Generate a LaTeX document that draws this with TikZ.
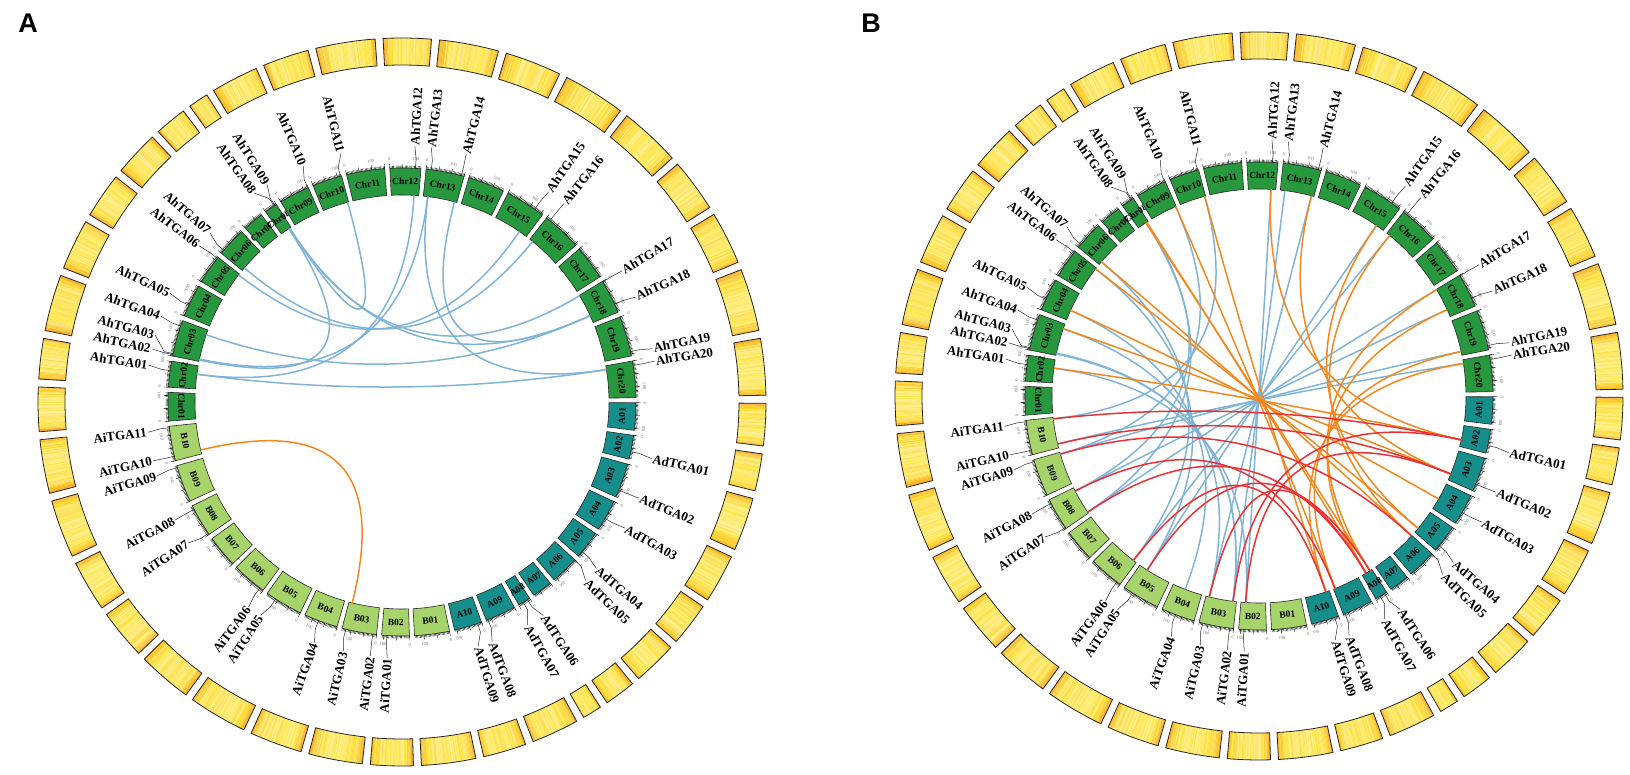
\documentclass[tikz,border=0pt]{standalone}
\usepackage{fontspec}
\setmainfont{Liberation Serif}
\setsansfont{Liberation Sans}
\usetikzlibrary{calc}

\definecolor{ahgreen}{RGB}{40,152,62}
\definecolor{adteal}{RGB}{22,142,140}
\definecolor{aigreen}{RGB}{166,211,106}
\definecolor{heatyellow}{RGB}{255,228,50}
\definecolor{heatorange}{RGB}{246,160,40}
\definecolor{linkblue}{RGB}{128,180,215}
\definecolor{linkorange}{RGB}{244,136,30}
\definecolor{linkred}{RGB}{236,48,52}

\tikzset{
  band/.style={draw=black!85, line width=0.8pt},
  chrom/.style={draw=black!85, line width=0.6pt},
  chrlabel/.style={font=\bfseries\fontsize{9.5}{10}\selectfont, inner sep=0pt},
  genelabel/.style={font=\bfseries\fontsize{13}{14}\selectfont, inner sep=0pt},
  ticklabel/.style={font=\fontsize{4.5}{5}\selectfont, text=black!55, inner sep=0pt},
  tickline/.style={line width=0.35pt, black},
  leader/.style={line width=0.5pt, black!85},
  link/.style={line width=1.5pt},
  panellabel/.style={font=\sffamily\bfseries\fontsize{27}{28}\selectfont, inner sep=0pt},
}

% chromosome name / length (Mb) / colour
\newcommand{\chromlist}{Chr01/112/ahgreen,Chr02/102/ahgreen,Chr03/143/ahgreen,Chr04/128/ahgreen,
  Chr05/115/ahgreen,Chr06/115/ahgreen,Chr07/81/ahgreen,Chr08/51/ahgreen,Chr09/120/ahgreen,
  Chr10/117/ahgreen,Chr11/150/ahgreen,Chr12/121/ahgreen,Chr13/150/ahgreen,Chr14/143/ahgreen,
  Chr15/158/ahgreen,Chr16/155/ahgreen,Chr17/135/ahgreen,Chr18/134/ahgreen,Chr19/158/ahgreen,
  Chr20/143/ahgreen,A01/107/adteal,A02/94/adteal,A03/135/adteal,A04/123/adteal,A05/110/adteal,
  A06/112/adteal,A07/79/adteal,A08/49/adteal,A09/120/adteal,A10/109/adteal,B01/137/aigreen,
  B02/108/aigreen,B03/136/aigreen,B04/133/aigreen,B05/149/aigreen,B06/137/aigreen,
  B07/126/aigreen,B08/129/aigreen,B09/147/aigreen,B10/136/aigreen}

% gene / chromosome / position (Mb) / label angle
\newcommand{\genelist}{AhTGA01/Chr02/65/171.7,AhTGA02/Chr03/6/168.0,AhTGA03/Chr03/10/164.8,
  AhTGA04/Chr03/121/160.4,AhTGA05/Chr04/45/154.9,AhTGA06/Chr05/110/142.4,AhTGA07/Chr06/15/138.6,
  AhTGA08/Chr08/40/125.3,AhTGA09/Chr08/44/121.8,AhTGA10/Chr09/118/112.7,AhTGA11/Chr10/113/103.8,
  AhTGA12/Chr12/100/87.1,AhTGA13/Chr13/20/83.4,AhTGA14/Chr13/139/75.5,AhTGA15/Chr15/121/55.1,
  AhTGA16/Chr16/16/50.8,AhTGA17/Chr18/2/30.8,AhTGA18/Chr18/101/24.2,AhTGA19/Chr19/141/12.0,
  AhTGA20/Chr20/17/9.2,
  AdTGA01/A02/64/-12.8,AdTGA02/A03/107/-22.1,AdTGA03/A04/74/-29.5,AdTGA04/A05/88/-40.6,
  AdTGA05/A06/2/-44.2,AdTGA06/A08/10/-56.5,AdTGA07/A08/30/-60.7,AdTGA08/A09/113/-69.4,
  AdTGA09/A10/16/-72.7,
  AiTGA01/B02/87/-93.3,AiTGA02/B03/15/-97.1,AiTGA03/B03/121/-103.2,AiTGA04/B04/76/-110.0,
  AiTGA05/B05/110/-123.5,AiTGA06/B06/15/-126.8,AiTGA07/B08/5/-146.6,AiTGA08/B08/113/-152.5,
  AiTGA09/B09/139/-163.2,AiTGA10/B10/18/-166.7,AiTGA11/B10/130/-173.2}

\def\scl{0.0631}
\def\gap{1.26}

% one circos panel: density band, chromosomes, ticks, genes
\newcommand{\circospanel}{%
  \pgfmathsetseed{17}%
  \xdef\curang{184.7}%
  \foreach \nm/\len/\col in \chromlist {%
    \pgfmathsetmacro\sa{\curang}%
    \pgfmathsetmacro\ea{\sa-\len*\scl}%
    \expandafter\xdef\csname st\nm\endcsname{\sa}%
    % gene density band
    \foreach \mb in {0,3,...,\len} {%
      \pgfmathsetmacro\stripa{\sa-\mb*\scl}%
      \pgfmathsetmacro\stripb{\sa-min(\mb+3.6,\len)*\scl}%
      \pgfmathsetmacro\xx{abs(2*\mb/\len-1)}%
      \pgfmathtruncatemacro\yy{min(100,52+45*\xx*\xx*\xx*\xx+38*rnd)}%
      \pgfmathtruncatemacro\oo{max(0,min(80,85*\xx^6+40*rnd-18))}%
      \fill[heatorange!\oo!heatyellow!\yy!white] (\stripa:337) arc[start angle=\stripa,end angle=\stripb,radius=337]
        -- (\stripb:364) arc[start angle=\stripb,end angle=\stripa,radius=364] -- cycle;
    }%
    \draw[band] (\sa:337) arc[start angle=\sa,end angle=\ea,radius=337]
      -- (\ea:364) arc[start angle=\ea,end angle=\sa,radius=364] -- cycle;
    % chromosome block
    \filldraw[chrom, fill=\col] (\sa:207) arc[start angle=\sa,end angle=\ea,radius=207]
      -- (\ea:234) arc[start angle=\ea,end angle=\sa,radius=234] -- cycle;
    \pgfmathsetmacro\ma{(\sa+\ea)/2}%
    \pgfmathsetmacro\rr{sin(\ma)>=0 ? \ma-90 : \ma+90}%
    \node[chrlabel, rotate=\rr] (\nm) at (\ma:220.5) {\nm};
    % ticks
    \draw[tickline] \foreach \tk in {0,5,...,\len} {({\sa-\tk*\scl}:234) -- ({\sa-\tk*\scl}:236.5)};
    \draw[tickline] \foreach \tk in {0,50,...,\len} {({\sa-\tk*\scl}:234) -- ({\sa-\tk*\scl}:238.5)};
    \node[ticklabel, rotate=\rr] (\nm-0) at (\sa:243) {0};
    \ifnum\len>99
      \pgfmathsetmacro\ha{\sa-100*\scl}%
      \node[ticklabel, rotate=\rr] (\nm-100) at (\ha:243) {100};
    \fi
    \pgfmathsetmacro\nx{\ea-\gap}%
    \xdef\curang{\nx}%
  }%
  % genes with leaders
  \foreach \g/\cname/\pos/\lang in \genelist {%
    \pgfmathsetmacro\ga{\csname st\cname\endcsname-\pos*\scl}%
    \pgfmathtruncatemacro\rside{cos(\lang)>0}%
    \ifnum\rside=1 \def\lrot{\lang}\def\lanc{west}%
    \else \pgfmathsetmacro\lrot{\lang+180}\def\lanc{east}\fi
    \coordinate (\g) at (\ga:207);
    \coordinate (\g-c) at (\ga:69);
    \draw[leader] (\ga:234) -- (\ga:243) -- (\lang:256);
    \node[genelabel, rotate=\lrot, anchor=\lanc] (\g-lab) at (\lang:257) {\g};
  }%
}

% links between genes, bent through the centre
\newcommand{\linkset}[2]{%
  \foreach \u/\v in {#2} {\draw[link, #1] (\u) .. controls (\u-c) and (\v-c) .. (\v);}%
}

\begin{document}
\begin{tikzpicture}[x=1pt, y=1pt]
\useasboundingbox (0,0) rectangle (1630,774);

\node[panellabel] (labA) at (28,751) {A};
\node[panellabel] (labB) at (871,751) {B};

% panel A
\begin{scope}[shift={(402,372)}, name prefix=pA-]
  \circospanel
  \linkset{linkblue}{AhTGA01/AhTGA12,AhTGA01/AhTGA20,AhTGA03/AhTGA13,AhTGA02/AhTGA08,
    AhTGA04/AhTGA18,AhTGA06/AhTGA15,AhTGA07/AhTGA16,AhTGA08/AhTGA17,AhTGA09/AhTGA18,
    AhTGA09/AhTGA11,AhTGA13/AhTGA20,AhTGA14/AhTGA18}
  \linkset{linkorange}{AiTGA10/AiTGA03}
\end{scope}

% panel B
\begin{scope}[shift={(1259,378)}, name prefix=pB-]
  \circospanel
  \linkset{linkblue}{AhTGA12/AiTGA01,AhTGA13/AiTGA02,AhTGA14/AiTGA03,AhTGA15/AiTGA05,
    AhTGA16/AiTGA06,AhTGA17/AiTGA07,AhTGA18/AiTGA08,AhTGA19/AiTGA09,AhTGA20/AiTGA10,
    AhTGA11/AiTGA11,AhTGA01/AiTGA01,AhTGA02/AiTGA02,AhTGA03/AiTGA02,AhTGA04/AiTGA03,
    AhTGA05/AiTGA04,AhTGA06/AiTGA05,AhTGA07/AiTGA06,AhTGA08/AiTGA07,AhTGA09/AiTGA08,
    AhTGA10/AiTGA09}
  \linkset{linkorange}{AhTGA01/AdTGA01,AhTGA04/AdTGA02,AhTGA05/AdTGA03,AhTGA06/AdTGA04,
    AhTGA07/AdTGA05,AhTGA08/AdTGA06,AhTGA09/AdTGA07,AhTGA10/AdTGA08,AhTGA11/AdTGA09,
    AhTGA12/AdTGA01,AhTGA14/AdTGA02,AhTGA15/AdTGA04,AhTGA16/AdTGA05,AhTGA17/AdTGA06,
    AhTGA18/AdTGA07,AhTGA19/AdTGA08,AhTGA20/AdTGA09}
  \linkset{linkred}{AiTGA11/AdTGA01,AiTGA10/AdTGA02,AiTGA09/AdTGA05,AiTGA08/AdTGA08,
    AiTGA07/AdTGA07,AiTGA06/AdTGA09,AiTGA05/AdTGA06,AiTGA03/AdTGA07,AiTGA02/AdTGA01,
    AiTGA01/AdTGA02}
\end{scope}
\end{tikzpicture}
\end{document}
